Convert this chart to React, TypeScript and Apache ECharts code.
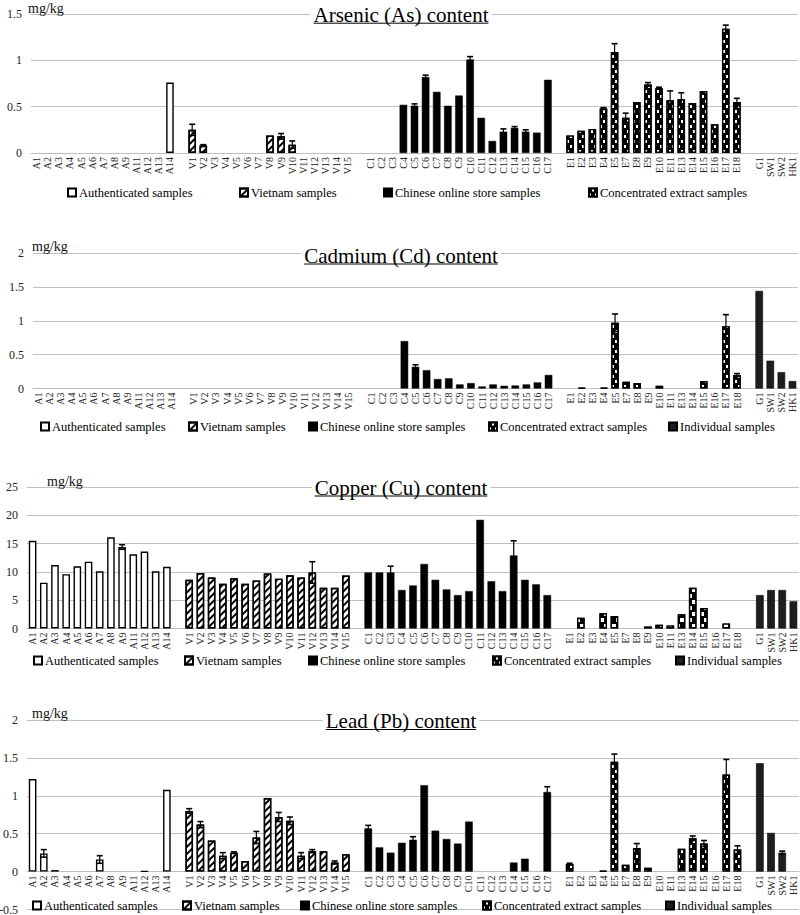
import React, { useEffect, useRef } from "react";
import * as echarts from "echarts";

const SERIF = "'Liberation Serif', 'Times New Roman', serif";

// ---- category labels ----
const authLabels = ["A1", "A2", "A3", "A4", "A5", "A6", "A7", "A8", "A9", "A11", "A12", "A13", "A14"];
const vietLabels = ["V1", "V2", "V3", "V4", "V5", "V6", "V7", "V8", "V9", "V10", "V11", "V12", "V13", "V14", "V15"];
const chinLabels = ["C1", "C2", "C3", "C4", "C5", "C6", "C7", "C8", "C9", "C10", "C11", "C12", "C13", "C14", "C15", "C16", "C17"];
const concLabels = ["E1", "E2", "E3", "E4", "E5", "E7", "E8", "E9", "E10", "E11", "E13", "E14", "E15", "E16", "E17", "E18"];
const indivLabels = ["G1", "SW1", "SW2", "HK1"];

const groupNames = [
  "Authenticated samples",
  "Vietnam samples",
  "Chinese online store samples",
  "Concentrated extract samples",
  "Individual samples",
];

// ---- Arsenic ----
const asAuth = [0, 0, 0, 0, 0, 0, 0, 0, 0, 0, 0, 0, 0.76];
const asViet = [0.25, 0.08, 0, 0, 0, 0, 0, 0.19, 0.18, 0.09, 0, 0, 0, 0, 0];
const asChin = [0, 0, 0, 0.52, 0.51, 0.82, 0.66, 0.51, 0.62, 1.01, 0.38, 0.13, 0.23, 0.27, 0.23, 0.22, 0.79];
const asConc = [0.19, 0.24, 0.26, 0.48, 1.09, 0.38, 0.55, 0.74, 0.7, 0.57, 0.58, 0.54, 0.67, 0.31, 1.34, 0.55];
const asIndiv = [0, 0, 0, 0];
const asErr: [string, number][] = [
  ["V1", 0.06], ["V2", 0.01], ["V9", 0.03], ["V10", 0.04], ["C5", 0.02], ["C6", 0.02], ["C10", 0.03],
  ["C13", 0.03], ["C14", 0.015], ["C15", 0.02], ["E4", 0.01], ["E5", 0.09], ["E7", 0.05], ["E9", 0.02],
  ["E10", 0.01], ["E11", 0.1], ["E13", 0.07], ["E17", 0.04], ["E18", 0.04],
];

// ---- Cadmium ----
const cdAuth = [0, 0, 0, 0, 0, 0, 0, 0, 0, 0, 0, 0, 0];
const cdViet = [0, 0, 0, 0, 0, 0, 0, 0, 0, 0, 0, 0, 0, 0, 0];
const cdChin = [0, 0, 0, 0.7, 0.32, 0.27, 0.14, 0.15, 0.06, 0.08, 0.03, 0.06, 0.04, 0.045, 0.06, 0.09, 0.2];
const cdConc = [0, 0.01, 0, 0.01, 0.97, 0.1, 0.08, 0, 0.04, 0, 0, 0, 0.11, 0, 0.92, 0.2];
const cdIndiv = [1.44, 0.41, 0.24, 0.11];
const cdErr: [string, number][] = [["C5", 0.03], ["E5", 0.13], ["E17", 0.17], ["E18", 0.02]];

// ---- Copper ----
const cuAuth = [15.5, 8.1, 11.2, 9.6, 11.0, 11.8, 10.1, 16.1, 14.4, 13.1, 13.6, 10.1, 10.9];
const cuViet = [8.6, 9.8, 9.0, 7.9, 8.9, 7.9, 8.5, 9.7, 8.8, 9.4, 9.0, 9.9, 7.2, 7.2, 9.35];
const cuChin = [9.9, 9.9, 9.9, 6.8, 7.6, 11.4, 8.6, 6.9, 5.9, 6.6, 19.2, 8.35, 6.6, 12.9, 8.6, 7.8, 5.9];
const cuConc = [0, 1.9, 0, 2.7, 2.2, 0, 0, 0.35, 0.65, 0.55, 2.5, 7.2, 3.6, 0, 0.9, 0];
const cuIndiv = [5.9, 6.8, 6.8, 4.8];
const cuErr: [string, number][] = [["A9", 0.4], ["V12", 1.9], ["C3", 1.1], ["C14", 2.6]];

// ---- Lead ----
const pbAuth = [1.22, 0.24, 0.02, 0, 0, 0, 0.16, 0, 0, 0, 0.005, 0, 1.08];
const pbViet = [0.8, 0.62, 0.41, 0.21, 0.25, 0.14, 0.45, 0.97, 0.72, 0.67, 0.21, 0.27, 0.27, 0.12, 0.23];
const pbChin = [0.57, 0.32, 0.25, 0.38, 0.42, 1.14, 0.54, 0.43, 0.37, 0.66, 0, 0, 0, 0.12, 0.17, 0, 1.05];
const pbConc = [0.1, 0, 0, 0.01, 1.45, 0.09, 0.31, 0.05, 0, 0, 0.3, 0.44, 0.37, 0, 1.28, 0.29];
const pbIndiv = [1.43, 0.51, 0.25, 0];
const pbErr: [string, number][] = [
  ["A2", 0.05], ["A7", 0.05], ["V1", 0.03], ["V2", 0.04], ["V4", 0.04], ["V5", 0.01], ["V7", 0.08],
  ["V9", 0.06], ["V10", 0.05], ["V11", 0.04], ["V12", 0.02], ["V14", 0.02], ["C1", 0.04], ["C5", 0.04],
  ["C17", 0.07], ["E1", 0.01], ["E5", 0.1], ["E8", 0.06], ["E14", 0.03], ["E15", 0.04], ["E17", 0.2],
  ["E18", 0.05], ["SW2", 0.02],
];

// ---- build the shared category axis ----
const groupLabels = [authLabels, vietLabels, chinLabels, concLabels, indivLabels];
const categories: string[] = [];
const catGroup: number[] = [];
const catPos: number[] = [];
groupLabels.forEach((labels, g) => {
  if (g > 0) {
    categories.push("__gap" + g);
    catGroup.push(-1);
    catPos.push(-1);
  }
  labels.forEach((l, i) => {
    categories.push(l);
    catGroup.push(g);
    catPos.push(i);
  });
});

const stripeDecal = {
  symbol: "rect",
  symbolSize: 1,
  dashArrayX: [1, 0],
  dashArrayY: [2, 3],
  rotation: -Math.PI / 4,
  color: "#000",
  backgroundColor: "#fff",
};
const checkDecal = {
  symbol: "rect",
  symbolSize: 1,
  dashArrayX: [[2, 4], [0, 3, 2, 1]],
  dashArrayY: [3, 2],
  color: "#fff",
  backgroundColor: "#000",
};
const bigCheckDecal = {
  symbol: "rect",
  symbolSize: 1,
  dashArrayX: [[4, 4], [0, 4, 4, 0]],
  dashArrayY: [4, 2],
  color: "#fff",
  backgroundColor: "#000",
};

const panels = [
  {
    title: "Arsenic (As) content",
    min: 0, max: 1.5, interval: 0.5,
    values: [asAuth, asViet, asChin, asConc, asIndiv],
    err: asErr,
    grid: { left: 31, right: 2, top: 14, height: 139 },
    titleY: 20.7,
    mg: [28, 8],
    legendY: 193,
    legendX: [67, 239, 383, 588],
    concDecal: checkDecal,
  },
  {
    title: "Cadmium (Cd) content",
    min: 0, max: 2, interval: 0.5,
    values: [cdAuth, cdViet, cdChin, cdConc, cdIndiv],
    err: cdErr,
    grid: { left: 33, right: 2, top: 253, height: 135.5 },
    titleY: 261.5,
    mg: [32, 246],
    legendY: 427,
    legendX: [40, 188, 308, 488, 668],
    concDecal: checkDecal,
  },
  {
    title: "Copper (Cu) content",
    min: 0, max: 25, interval: 5,
    values: [cuAuth, cuViet, cuChin, cuConc, cuIndiv],
    err: cuErr,
    grid: { left: 27, right: 1, top: 487, height: 141.5 },
    titleY: 493.5,
    mg: [47, 481],
    legendY: 661,
    legendX: [33, 184, 308, 492, 675],
    concDecal: bigCheckDecal,
  },
  {
    title: "Lead (Pb) content",
    min: -0.5, max: 2, interval: 0.5,
    values: [pbAuth, pbViet, pbChin, pbConc, pbIndiv],
    err: pbErr,
    grid: { left: 27, right: 1, top: 720, height: 189.5 },
    titleY: 727,
    mg: [32, 713],
    legendY: 906,
    legendX: [32, 182, 300, 482, 665],
    concDecal: checkDecal,
  },
];

function textWidth(text: string, font: string): number {
  const ctx = document.createElement("canvas").getContext("2d");
  if (!ctx) return text.length * 9;
  ctx.font = font;
  return ctx.measureText(text).width;
}

function buildOption() {
  const grids: any[] = [];
  const xAxes: any[] = [];
  const yAxes: any[] = [];
  const series: any[] = [];
  const legends: any[] = [];
  const graphics: any[] = [];
  const titleFont = "21px " + SERIF;

  const yLabel = { fontSize: 12, fontFamily: SERIF, color: "#222", margin: 9 };
  const split = { show: true, lineStyle: { color: "#c0c0c0", width: 1 } };

  panels.forEach((p, pi) => {
    const hasNeg = p.min < 0;
    // bar grid: from 0 to max (the frame grid carries negative range if any)
    const barHeight = hasNeg ? (p.grid.height * p.max) / (p.max - p.min) : p.grid.height;
    const gi = grids.length;
    grids.push({ ...p.grid, height: barHeight, containLabel: false, outerBoundsMode: "none" });
    xAxes.push({
      type: "category",
      gridIndex: gi,
      data: categories,
      axisTick: { show: false },
      axisLine: { show: true, lineStyle: { color: "#bfbfbf", width: 1 } },
      axisLabel: {
        interval: 0,
        rotate: 90,
        fontSize: 10,
        fontFamily: SERIF,
        color: "#222",
        margin: 4,
        formatter: (v: string) => (v.indexOf("__gap") === 0 ? "" : v),
      },
      splitLine: { show: false },
    });
    yAxes.push({
      type: "value",
      gridIndex: gi,
      min: 0,
      max: p.max,
      interval: p.interval,
      axisLine: { show: false },
      axisTick: { show: false },
      splitLine: split,
      axisLabel: hasNeg ? { show: false } : yLabel,
    });
    if (hasNeg) {
      const fi = grids.length;
      grids.push({ ...p.grid, containLabel: false, outerBoundsMode: "none" });
      xAxes.push({ type: "category", gridIndex: fi, data: categories, show: false });
      yAxes.push({
        type: "value",
        gridIndex: fi,
        min: p.min,
        max: p.max,
        interval: p.interval,
        axisLine: { show: false },
        axisTick: { show: false },
        splitLine: split,
        axisLabel: yLabel,
      });
    }

    const styles = [
      { color: "#fff", borderColor: "#000", borderWidth: 1.4 },
      { color: "#fff", borderColor: "#000", borderWidth: 1.4, decal: stripeDecal },
      { color: "#000", borderColor: "#000", borderWidth: 0.5 },
      { color: "#000", borderColor: "#000", borderWidth: 1.4, decal: p.concDecal },
      { color: "#1e1e1e", borderColor: "#000", borderWidth: 0.6 },
    ];

    p.values.forEach((vals, g) => {
      const data = categories.map((_, i) => {
        if (catGroup[i] !== g) return null;
        const v = vals[catPos[i]];
        return v ? v : null;
      });
      series.push({
        type: "bar",
        name: groupNames[g],
        xAxisIndex: gi,
        yAxisIndex: gi,
        data,
        barWidth: "68%",
        barGap: "-100%",
        itemStyle: styles[g],
        emphasis: { disabled: true },
      });
    });

    // error bars
    const errData = p.err.map(([label, e]) => {
      const idx = categories.indexOf(label);
      const g = catGroup[idx];
      const v = p.values[g][catPos[idx]];
      return [idx, v, e];
    });
    series.push({
      type: "custom",
      name: "err" + pi,
      xAxisIndex: gi,
      yAxisIndex: gi,
      z: 10,
      encode: { x: 0, y: 1 },
      data: errData,
      renderItem: (params: any, api: any) => {
        const idx = api.value(0);
        const v = api.value(1);
        const e = api.value(2);
        const top = api.coord([idx, v + e]);
        const bot = api.coord([idx, Math.max(v - e, 0)]);
        const cap = 3;
        const st = { stroke: "#000", lineWidth: 1.2 };
        return {
          type: "group",
          children: [
            { type: "line", shape: { x1: top[0], y1: top[1], x2: bot[0], y2: bot[1] }, style: st },
            { type: "line", shape: { x1: top[0] - cap, y1: top[1], x2: top[0] + cap, y2: top[1] }, style: { stroke: "#000", lineWidth: 1.6 } },
            { type: "line", shape: { x1: bot[0] - cap, y1: bot[1], x2: bot[0] + cap, y2: bot[1] }, style: { stroke: "#000", lineWidth: 1.6 } },
          ],
        };
      },
    });

    p.legendX.forEach((lx, g) => {
      legends.push({
        data: [groupNames[g]],
        left: lx,
        top: p.legendY - 7,
        padding: 0,
        itemWidth: 8,
        itemHeight: 8,
        itemGap: 0,
        selectedMode: false,
        icon: "rect",
        textStyle: { fontFamily: SERIF, fontSize: 12.5, color: "#000", padding: [0, 0, 0, -2] },
      });
    });

    // title with white background over gridline, plus underline
    const cx = 401;
    const w = textWidth(p.title, titleFont);
    graphics.push({
      type: "rect",
      z: 99,
      shape: { x: cx - w / 2 - 3, y: p.titleY - 17, width: w + 6, height: 22 },
      style: { fill: "#fff" },
    });
    graphics.push({
      type: "text",
      z: 100,
      x: cx,
      y: p.titleY + 4.5,
      style: {
        text: p.title,
        font: titleFont,
        fill: "#000",
        align: "center",
        verticalAlign: "bottom",
        textAlign: "center",
        textVerticalAlign: "bottom",
      },
    });
    graphics.push({
      type: "line",
      z: 100,
      shape: { x1: cx - w / 2, y1: p.titleY + 2.5, x2: cx + w / 2, y2: p.titleY + 2.5 },
      style: { stroke: "#000", lineWidth: 1 },
    });
    graphics.push({
      type: "text",
      z: 100,
      x: p.mg[0],
      y: p.mg[1],
      style: {
        text: "mg/kg",
        font: "14px " + SERIF,
        fill: "#111",
        align: "left",
        verticalAlign: "middle",
        textAlign: "left",
        textVerticalAlign: "middle",
      },
    });
  });

  return {
    animation: false,
    backgroundColor: "#fff",
    grid: grids,
    xAxis: xAxes,
    yAxis: yAxes,
    series,
    legend: legends,
    graphic: graphics,
  };
}

export default function App() {
  const ref = useRef<HTMLDivElement>(null);
  useEffect(() => {
    if (!ref.current) return;
    const chart = echarts.init(ref.current, undefined, { renderer: "svg" });
    chart.setOption(buildOption() as any);
    return () => chart.dispose();
  }, []);
  return (
    <div
      ref={ref}
      style={{ position: "fixed", left: 0, top: 0, width: 800, height: 915, background: "#fff" }}
    />
  );
}
